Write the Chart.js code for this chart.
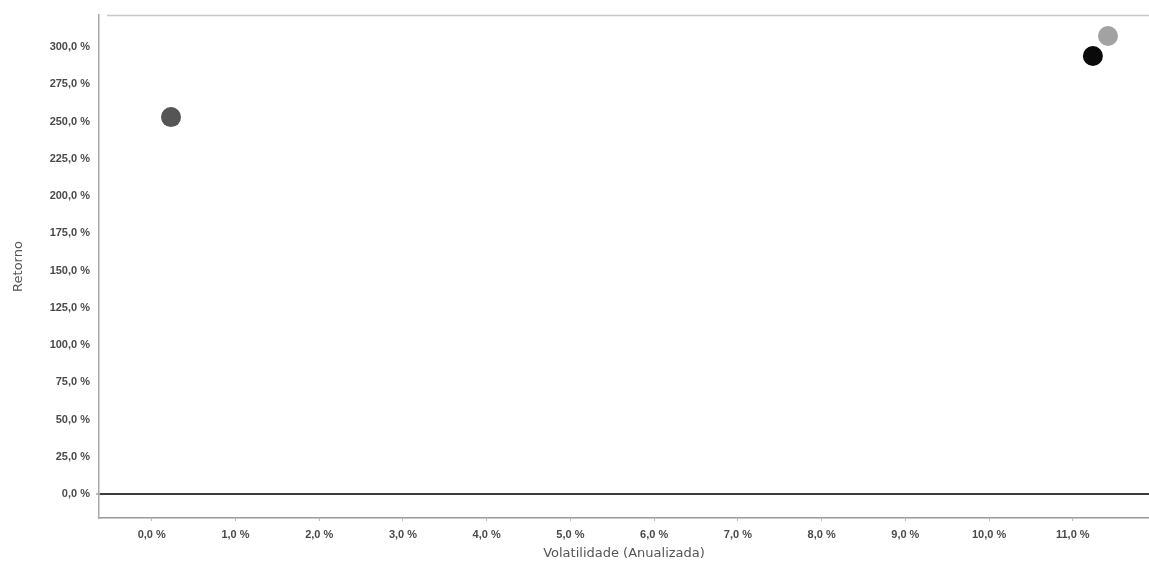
<!DOCTYPE html>
<html>
<head>
<meta charset="utf-8">
<script src="https://cdn.jsdelivr.net/npm/chart.js@4/dist/chart.umd.min.js"></script>
<style>
  html, body { margin: 0; padding: 0; background: #fff; }
  #wrap { width: 1149px; height: 561px; }
</style>
</head>
<body>
<div id="wrap"><canvas id="c" width="1149" height="561"></canvas></div>
<script>
// ---- data ----
const pointNames = ["Ativo A", "Ativo B", "Ativo C"];
const volatility = [0.23, 11.24, 11.42];   // % annualised
const returns    = [253.0, 294.0, 307.4];  // %
const xTicks = [0, 1, 2, 3, 4, 5, 6, 7, 8, 9, 10, 11];
const yTicks = [0, 25, 50, 75, 100, 125, 150, 175, 200, 225, 250, 275, 300];
const xTitle = "Volatilidade (Anualizada)";
const yTitle = "Retorno";

// ---- styles ----
const pointColors = ["#555555", "#0a0a0a", "#a2a2a2"];

const fmt = v => v.toFixed(1).replace('.', ',') + ' %';
const tickFont = { family: "Liberation Sans", size: 11, weight: "bold" };

const topBorder = {
  id: 'topBorder',
  beforeDatasetsDraw(chart) {
    const a = chart.chartArea, ctx = chart.ctx;
    ctx.save();
    ctx.strokeStyle = '#c8c8c8';
    ctx.lineWidth = 1.5;
    ctx.beginPath();
    ctx.moveTo(a.left + 8, a.top + 0.5);
    ctx.lineTo(a.right, a.top + 0.5);
    ctx.stroke();
    ctx.restore();
  }
};

new Chart(document.getElementById('c'), {
  type: 'scatter',
  data: {
    datasets: [{
      label: 'Ativos',
      data: volatility.map((x, i) => ({ x: x, y: returns[i], name: pointNames[i] })),
      pointRadius: 10,
      pointHoverRadius: 10,
      pointBackgroundColor: pointColors,
      pointBorderColor: pointColors,
      pointBorderWidth: 0
    }]
  },
  options: {
    responsive: false,
    animation: false,
    devicePixelRatio: 1,
    layout: { padding: { top: 15, right: 0, left: 0, bottom: 0 }, autoPadding: false },
    plugins: { legend: { display: false }, tooltip: { enabled: false } },
    scales: {
      x: {
        type: 'linear',
        min: -0.63,
        max: 11.91,
        afterBuildTicks: s => { s.ticks = xTicks.map(v => ({ value: v })); },
        afterFit: s => { s.height = 43; },
        ticks: { callback: v => fmt(v), font: tickFont, color: '#4a4a4a', padding: 7, maxRotation: 0, autoSkip: false },
        grid: { display: true, drawOnChartArea: false, drawTicks: true, tickLength: 3, tickColor: '#bbb' },
        border: { display: true, color: '#9a9a9a', width: 1.5 },
        title: { display: true, text: xTitle, color: '#555', font: { family: "DejaVu Sans", size: 13 }, padding: { top: 0, bottom: 0 } }
      },
      y: {
        type: 'linear',
        min: -16.1,
        max: 321.5,
        afterBuildTicks: s => { s.ticks = yTicks.map(v => ({ value: v })); },
        afterFit: s => { s.width = 99; },
        ticks: { callback: v => fmt(v), font: tickFont, color: '#4a4a4a', padding: 6, autoSkip: false },
        grid: {
          display: true,
          drawOnChartArea: true,
          drawTicks: true,
          tickLength: 3,
          tickColor: '#bbb',
          color: c => (c.tick && c.tick.value === 0) ? '#3c3c3c' : 'rgba(0,0,0,0)',
          lineWidth: c => (c.tick && c.tick.value === 0) ? 2 : 0
        },
        border: { display: true, color: '#a8a8a8', width: 1.5 },
        title: { display: true, text: yTitle, color: '#555', font: { family: "DejaVu Sans", size: 13 }, padding: { top: 11, bottom: 2 } }
      }
    }
  },
  plugins: [topBorder]
});
</script>
</body>
</html>
